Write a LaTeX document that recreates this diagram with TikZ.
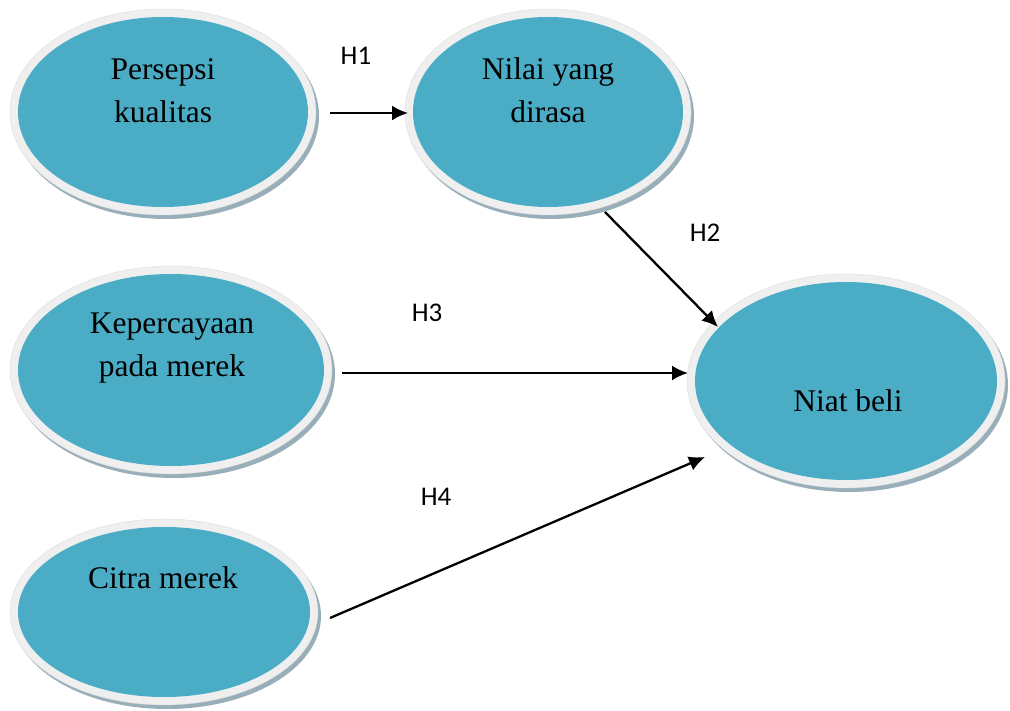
\documentclass[tikz,border=0pt]{standalone}
\usepackage{fontspec}
\setmainfont{Liberation Serif}
\newfontfamily\labelfont{Carlito}
\usetikzlibrary{shapes.geometric,arrows.meta,calc}

\definecolor{aqua}{HTML}{4BACC6}
\definecolor{rimgray}{HTML}{EFEFEF}
\definecolor{shadowblue}{HTML}{98AFBA}

\tikzset{
  rim/.style={ellipse, fill=rimgray, draw=rimgray!90!black, line width=0.3pt, inner sep=0pt, outer sep=0pt},
  caption/.style={anchor=base, align=center, inner sep=0pt,
    font=\fontsize{31.5}{43}\selectfont},
  hyp/.style={anchor=base, inner sep=0pt, font=\labelfont\fontsize{27}{30}\selectfont},
  link/.style={line width=2.3pt, -{Latex[length=16pt,width=15pt]}}
}

% construct: name, centre x, centre y, width, height
\newcommand\blob[5]{%
  \fill[shadowblue] ($(#2,#3)+(3,4)$) ellipse [x radius=#4/2, y radius=#5/2];
  \node[rim, minimum width=#4pt, minimum height=#5pt] (#1) at (#2,#3) {};
  \fill[aqua] (#1.center) ellipse [x radius=#4/2-8, y radius=#5/2-8];
}

\begin{document}
\begin{tikzpicture}[x=1pt, y=-1pt]
  \useasboundingbox (0,0) rectangle (1010,711);

  \blob{e1}{163}{112}{306}{206}
  \blob{e2}{548}{112}{286}{206}
  \blob{e3}{171}{370}{322}{208}
  \blob{e4}{164}{612}{308}{186}
  \blob{e5}{846}{381}{318}{214}

  % base anchor sits on the last line of a two-line caption
  \node[caption] (t1) at (163,123) {Persepsi\\kualitas};
  \node[caption] (t2) at (548,123) {Nilai yang\\dirasa};
  \node[caption] (t3) at (172,377) {Kepercayaan\\pada merek};
  \node[caption] (t4) at (163,588) {Citra merek};
  \node[caption] (t5) at (848,411) {Niat beli};

  \draw[link] ($(e1.center)+(167,1)$) -- ($(e2.center)+(-140,1)$);
  \draw[link] ($(e2.center)+(57,100)$) -- ($(e5.center)+(-128,-54)$);
  \draw[link] ($(e3.center)+(171,3)$) -- ($(e5.center)+(-158,-8)$);
  \draw[link] ($(e4.center)+(166,6)$) -- ($(e5.center)+(-141,76)$);

  \node[hyp] (h1) at (356,65) {H1};
  \node[hyp] (h2) at (705,242) {H2};
  \node[hyp] (h3) at (427,322) {H3};
  \node[hyp] (h4) at (436,505) {H4};
\end{tikzpicture}
\end{document}
